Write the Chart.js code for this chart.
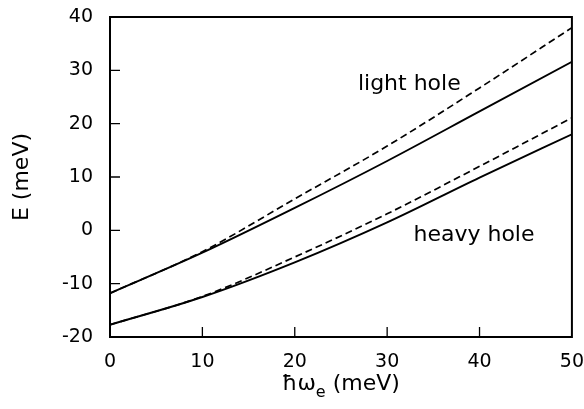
<!DOCTYPE html>
<html>
<head>
<meta charset="utf-8">
<script src="https://cdn.jsdelivr.net/npm/chart.js@4"></script>
<style>
  html, body { margin: 0; padding: 0; background: #fff; }
  #wrap { width: 584px; height: 409px; position: relative; }
</style>
</head>
<body>
<div id="wrap"><canvas id="c"></canvas></div>
<script>
// Data
const hbarOmega = [0, 10, 20, 30, 40, 50];            // ħω_e (meV)
const lightHoleSolid  = [-11.8, -4.2, 4.2, 13.0, 22.3, 31.6];
const lightHoleDashed = [-11.8, -4.0, 5.9, 15.8, 26.7, 38.0];
const heavyHoleSolid  = [-17.7, -12.5, -6.0, 1.5, 9.9, 18.0];
const heavyHoleDashed = [-17.7, -12.4, -5.0, 3.1, 12.0, 21.1];
const xTicks = [0, 10, 20, 30, 40, 50];
const yTicks = [-20, -10, 0, 10, 20, 30, 40];
const curveLabels = ['light hole', 'heavy hole'];
const curveLabelAt = [[32.4, 27.4], [39.4, -0.9]];
const xTitle = ['ħω', 'e', ' (meV)'];
const yTitle = 'E (meV)';

const FONT = '"DejaVu Sans", "Liberation Sans", sans-serif';
const pts = (ys) => hbarOmega.map((x, i) => ({ x: x, y: ys[i] }));

const framePlugin = {
  id: 'frame',
  afterDatasetsDraw(chart) {
    const { ctx, chartArea: a, scales } = chart;
    ctx.save();
    ctx.strokeStyle = '#000';
    ctx.lineWidth = 2;
    ctx.strokeRect(a.left, a.top, a.right - a.left, a.bottom - a.top);
    // inward ticks
    ctx.lineWidth = 1.3;
    ctx.beginPath();
    yTicks.forEach(v => {
      if (v === yTicks[0] || v === yTicks[yTicks.length - 1]) return;
      const y = scales.y.getPixelForValue(v);
      ctx.moveTo(a.left, y); ctx.lineTo(a.left + 10, y);
    });
    xTicks.forEach(v => {
      if (v === xTicks[0] || v === xTicks[xTicks.length - 1]) return;
      const x = scales.x.getPixelForValue(v);
      ctx.moveTo(x, a.bottom); ctx.lineTo(x, a.bottom - 10);
    });
    ctx.stroke();
    // curve labels
    ctx.fillStyle = '#000';
    ctx.font = '22px ' + FONT;
    ctx.textAlign = 'center';
    ctx.textBaseline = 'middle';
    curveLabels.forEach((t, i) => {
      ctx.fillText(t, scales.x.getPixelForValue(curveLabelAt[i][0]), scales.y.getPixelForValue(curveLabelAt[i][1]));
    });
    // x axis title with subscript
    const big = '22px ' + FONT, small = '16px ' + FONT;
    ctx.textAlign = 'left';
    ctx.textBaseline = 'alphabetic';
    ctx.font = big; const w0 = ctx.measureText(xTitle[0]).width;
    ctx.font = small; const w1 = ctx.measureText(xTitle[1]).width;
    ctx.font = big; const w2 = ctx.measureText(xTitle[2]).width;
    const cx = (a.left + a.right) / 2;
    let x = cx - (w0 + w1 + w2) / 2;
    const base = 390;
    ctx.font = big; ctx.fillText(xTitle[0], x, base); x += w0;
    ctx.font = small; ctx.fillText(xTitle[1], x, base + 7); x += w1;
    ctx.font = big; ctx.fillText(xTitle[2], x, base);
    ctx.restore();
  }
};

const solid = { borderColor: '#000', borderWidth: 1.9, pointRadius: 0, fill: false, cubicInterpolationMode: 'monotone' };
const dashed = Object.assign({}, solid, { borderDash: [7, 4], borderWidth: 1.7 });
const hiddenTickGrid = (len) => ({ display: true, drawOnChartArea: false, drawTicks: true, tickLength: len, tickColor: 'rgba(0,0,0,0)', color: 'rgba(0,0,0,0)' });

new Chart(document.getElementById('c'), {
  type: 'line',
  data: {
    datasets: [
      Object.assign({ label: 'light hole', data: pts(lightHoleSolid) }, solid),
      Object.assign({ label: 'light hole (dashed)', data: pts(lightHoleDashed) }, dashed),
      Object.assign({ label: 'heavy hole', data: pts(heavyHoleSolid) }, solid),
      Object.assign({ label: 'heavy hole (dashed)', data: pts(heavyHoleDashed) }, dashed)
    ]
  },
  options: {
    responsive: true,
    maintainAspectRatio: false,
    animation: false,
    layout: { padding: { top: 17, right: 12, left: 0, bottom: 0 } },
    plugins: { legend: { display: false }, tooltip: { enabled: false } },
    scales: {
      x: {
        type: 'linear', min: 0, max: 50,
        afterBuildTicks: (s) => { s.ticks = xTicks.map(v => ({ value: v })); },
        afterFit: (s) => { s.height = 72; },
        grid: hiddenTickGrid(14),
        border: { display: false },
        ticks: { color: '#000', padding: 0, maxRotation: 0, font: { family: FONT, size: 19 } },
        title: { display: false }
      },
      y: {
        type: 'linear', min: -20, max: 40,
        afterBuildTicks: (s) => { s.ticks = yTicks.map(v => ({ value: v })); },
        afterFit: (s) => { s.width = 110; },
        grid: hiddenTickGrid(17),
        border: { display: false },
        ticks: { color: '#000', padding: 0, font: { family: FONT, size: 19 } },
        title: { display: true, text: yTitle, color: '#000', font: { family: FONT, size: 22 }, padding: { top: 9, bottom: 9 } }
      }
    }
  },
  plugins: [framePlugin]
});
</script>
</body>
</html>
